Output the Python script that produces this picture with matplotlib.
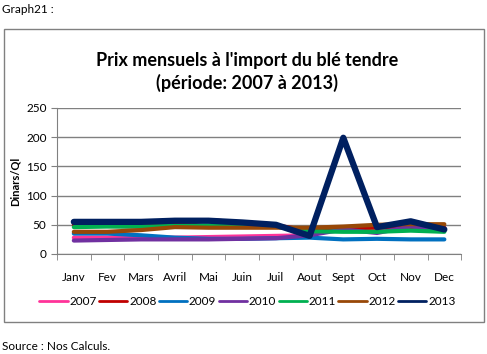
import matplotlib
matplotlib.use("Agg")
import matplotlib.pyplot as plt
import numpy as np
from matplotlib.patches import Rectangle

plt.rcParams['font.family'] = ['Lato', 'DejaVu Sans']

months = ["Janv", "Fev", "Mars", "Avril", "Mai", "Juin", "Juil", "Aout", "Sept", "Oct", "Nov", "Dec"]
years = ["2007", "2008", "2009", "2010", "2011", "2012", "2013"]
s2007 = [28, 28, 28, 28, 29, 30, 31, 32, np.nan, np.nan, np.nan, np.nan]
s2008 = [50, 48, 47, 50, 58, 54, 49, 40, 44, 45, 45, 45]
s2009 = [35, 35, 32, 28, 26, 26, 27, 28, 25, 26, 25, 25]
s2010 = [23, 24, 25, 25, 25, 26, 27, 32, 42, 36, 47, 42]
s2011 = [46, 47, 47, 48, 49, 48, 47, 39, 38, 38, 40, 38]
s2012 = [38, 38, 41, 46, 45, 45, 45, 45, 47, 50, 51, 51]
s2013 = [55, 55, 55, 57, 57, 54, 50, 31, 199, 46, 56, 42]
series = [s2007, s2008, s2009, s2010, s2011, s2012, s2013]
colors = ["#FF3399", "#C00000", "#0070C0", "#7030A0", "#00B050", "#984807", "#002060"]
widths = [3, 3, 3, 3, 3, 3, 4.5]

fig = plt.figure(figsize=(4.87, 3.54), dpi=100)
ax = fig.add_axes([0.117, 0.2825, 0.830, 0.4125])

x = np.arange(len(months))
for yr, s, c, w in zip(years, series, colors, widths):
    ax.plot(x, s, color=c, lw=w, label=yr, solid_capstyle='round', solid_joinstyle='round')

ax.set_xlim(-0.5, 11.5)
ax.set_ylim(0, 250)
ax.set_yticks(range(0, 251, 50))
ax.set_xticks(x)
ax.set_xticklabels(months, fontsize=8.5)
ax.tick_params(axis='x', length=0, pad=13)
ax.set_xticks(np.arange(-0.5, 12, 1), minor=True)
ax.tick_params(axis='x', which='minor', length=4, color='#808080')
ax.tick_params(axis='y', labelsize=8.5, length=4, color='#808080')
ax.yaxis.grid(True, color='#808080', lw=1)
ax.set_axisbelow(True)
for sp in ['top', 'right']:
    ax.spines[sp].set_visible(False)
for sp in ['left', 'bottom']:
    ax.spines[sp].set_color('#808080')
ax.set_ylabel("Dinars/Ql", fontsize=8, fontweight='bold', labelpad=4)

fig.text(0.508, 0.797, "Prix mensuels à l'import du blé tendre\n(période: 2007 à 2013)",
         ha='center', va='center', fontsize=13, fontweight='bold', linespacing=1.3)

leg = fig.legend(loc='center', bbox_to_anchor=(0.508, 0.148), ncol=7, frameon=False,
                 fontsize=8.5, handlelength=2.4, handletextpad=0.15, columnspacing=0.2)
for h in leg.get_lines():
    h.set_linewidth(2)

fig.patches.append(Rectangle((4/487, 1-322/354), 480/487, 293/354, transform=fig.transFigure,
                             fill=False, edgecolor='#808080', lw=1))
fig.text(0.004, 0.972, "Graph21 :", fontsize=8.5, ha='left', va='center')
fig.text(0.004, 0.02, "Source : Nos Calculs.", fontsize=8.5, ha='left', va='center')

fig.savefig("out.png", dpi=100)
